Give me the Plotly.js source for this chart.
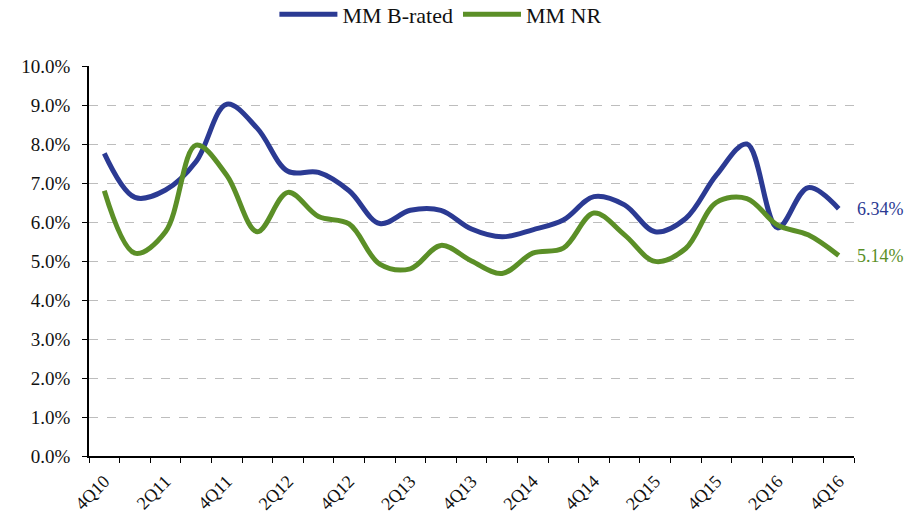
<!DOCTYPE html>
<html>
<head>
<meta charset="utf-8">
<script src="https://cdn.plot.ly/plotly-3.0.1.min.js"></script>
<style>
  body { margin: 0; background: #fff; }
  #graph { width: 914px; height: 517px; }
</style>
</head>
<body>
<div id="graph"></div>
<script>
// quarters 4Q10 .. 4Q16
const quarters = ['4Q10',
  '1Q11', '2Q11', '3Q11', '4Q11',
  '1Q12', '2Q12', '3Q12', '4Q12',
  '1Q13', '2Q13', '3Q13', '4Q13',
  '1Q14', '2Q14', '3Q14', '4Q14',
  '1Q15', '2Q15', '3Q15', '4Q15',
  '1Q16', '2Q16', '3Q16', '4Q16']

// default rates, in %
const bRated = [7.76,
  6.63, 6.82, 7.55, 9.02,
  8.40, 7.30, 7.27, 6.80,
  5.96, 6.30, 6.30, 5.82,
  5.62, 5.80, 6.05, 6.65,
  6.44, 5.75, 6.09, 7.20,
  8.00, 5.85, 6.88, 6.34]
const notRated = [6.80,
  5.20, 5.75, 7.97, 7.20,
  5.75, 6.76, 6.14, 5.95,
  4.92, 4.80, 5.40, 5.00,
  4.68, 5.20, 5.33, 6.23,
  5.67, 4.99, 5.32, 6.50,
  6.60, 5.92, 5.67, 5.14]

const blue = '#2B3A93'
const green = '#5B8F27'
const serif = 'Liberation Serif, Times New Roman, serif'

// only every other quarter gets a label
const tickLabels = quarters.map(q => (q[0] === '2' || q[0] === '4') ? q : '')

const last = quarters.length - 1

const graphData = [
    {
        x: quarters,
        y: bRated,
        name: 'MM B-rated',
        mode: 'lines',
        type: 'scatter',
        line: { color: blue, width: 5, shape: 'spline', smoothing: 1 },
    },
    {
        x: quarters,
        y: notRated,
        name: 'MM NR',
        mode: 'lines',
        type: 'scatter',
        line: { color: green, width: 5, shape: 'spline', smoothing: 1 },
    }
]

const layout = {
    width: 914,
    height: 517,
    margin: { l: 89, r: 60, t: 66, b: 61, autoexpand: false },
    paper_bgcolor: '#fff',
    plot_bgcolor: '#fff',
    font: { family: serif, size: 17, color: '#111' },
    showlegend: true,
    legend: {
        orientation: 'h',
        x: 0.46,
        xanchor: 'center',
        yref: 'container',
        y: 0.972,
        yanchor: 'middle',
        itemwidth: 58,
        font: { family: serif, size: 22, color: '#111' },
    },
    xaxis: {
        type: 'category',
        tickvals: quarters,
        ticktext: tickLabels,
        tickson: 'boundaries',
        tickangle: -45,
        ticks: 'outside',
        ticklen: 5,
        tickcolor: '#000',
        ticklabelstandoff: 6,
        showline: true,
        linecolor: '#000',
        linewidth: 1.5,
        showgrid: false,
        range: [-0.5, last + 0.5],
        tickfont: { family: serif, size: 18, color: '#111' },
    },
    yaxis: {
        range: [0, 10],
        dtick: 1,
        tickformat: '.1f',
        ticksuffix: '%',
        ticks: 'outside',
        ticklen: 5,
        tickcolor: '#000',
        ticklabelstandoff: 8,
        showline: true,
        linecolor: '#000',
        linewidth: 1.5,
        gridcolor: '#bdbdbd',
        griddash: 'dash',
        gridwidth: 1.2,
        zeroline: false,
        tickfont: { family: serif, size: 19, color: '#111' },
    },
    annotations: [
        {
            x: quarters[last], y: bRated[last],
            text: bRated[last].toFixed(2) + '%',
            showarrow: false, xanchor: 'left', xshift: 16,
            font: { family: serif, size: 18, color: blue },
        },
        {
            x: quarters[last], y: notRated[last],
            text: notRated[last].toFixed(2) + '%',
            showarrow: false, xanchor: 'left', xshift: 16,
            font: { family: serif, size: 18, color: green },
        }
    ]
};

Plotly.newPlot('graph', graphData, layout, { displayModeBar: false });
</script>
</body>
</html>
